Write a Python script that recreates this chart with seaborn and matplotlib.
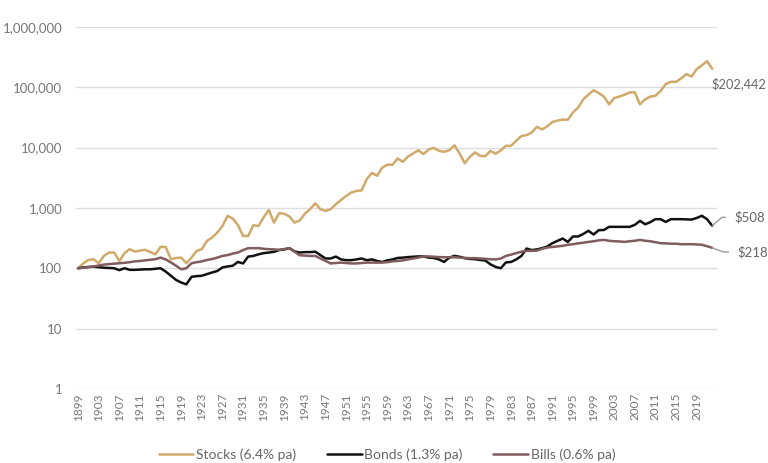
import pandas as pd
import numpy as np
import matplotlib
matplotlib.use("Agg")
import matplotlib.pyplot as plt
import matplotlib.ticker as mticker
import seaborn as sns

years = list(range(1899, 2023))

stocks = [
    100, 120, 137, 141, 121, 160, 182, 182, 132, 177,
    207, 189, 196, 202, 186, 170, 226, 224, 141, 148,
    150, 121, 150, 194, 207, 284, 323, 390, 500, 740,
    665, 520, 343, 343, 517, 500, 700, 925, 570, 815,
    800, 720, 570, 620, 800, 950, 1190, 950, 890, 950,
    1150, 1350, 1580, 1800, 1910, 1950, 3000, 3800, 3400, 4650,
    5200, 5200, 6600, 5800, 7100, 8000, 9000, 7800, 9300, 9900,
    8800, 8500, 9000, 10900, 8000, 5500, 7000, 8300, 7300, 7200,
    8800, 7900, 9000, 10700, 10700, 13000, 15600, 16000, 17800, 22000,
    20000, 22500, 26500, 28000, 29000, 29000, 38000, 46000, 63000, 75000,
    89000, 80000, 70000, 52000, 66000, 70000, 75000, 82000, 82000, 52000,
    63000, 70000, 72000, 87000, 113000, 123000, 123000, 140000, 165000, 150000,
    200000, 230000, 270000, 202442
]

bonds = [
    100, 103, 105, 106, 104, 102, 101, 100, 93, 100,
    94, 94, 95, 96, 96, 98, 100, 88, 75, 64,
    58, 54, 72, 74, 75, 80, 85, 90, 103, 107,
    110, 127, 120, 156, 160, 170, 178, 182, 187, 200,
    205, 215, 190, 182, 185, 185, 188, 165, 145, 145,
    156, 140, 136, 136, 140, 145, 136, 140, 132, 127,
    135, 140, 148, 150, 153, 155, 157, 157, 150, 148,
    140, 127, 150, 160, 155, 147, 143, 141, 137, 134,
    116, 105, 100, 125, 127, 140, 160, 212, 200, 205,
    215, 229, 260, 284, 311, 273, 336, 336, 370, 417,
    362, 427, 430, 485, 485, 485, 485, 485, 524, 610,
    535, 580, 650, 650, 585, 650, 650, 650, 645, 640,
    680, 740, 650, 508
]

bills = [
    100, 102, 104, 107, 111, 115, 117, 119, 121, 123,
    126, 130, 132, 135, 138, 141, 150, 140, 125, 110,
    96, 100, 121, 126, 130, 137, 142, 150, 160, 165,
    175, 182, 200, 215, 215, 215, 210, 207, 205, 202,
    208, 215, 187, 164, 162, 160, 160, 145, 132, 120,
    122, 124, 122, 120, 120, 122, 124, 124, 124, 124,
    126, 130, 132, 135, 140, 145, 150, 157, 157, 155,
    153, 152, 152, 152, 150, 148, 147, 147, 145, 143,
    141, 140, 145, 160, 168, 178, 188, 194, 194, 196,
    210, 220, 225, 230, 235, 245, 250, 258, 265, 273,
    280, 290, 295, 285, 280, 278, 273, 280, 285, 295,
    285, 280, 270, 260, 258, 255, 255, 250, 250, 250,
    248, 245, 232, 218
]

series_names = ["Stocks (6.4% pa)", "Bonds (1.3% pa)", "Bills (0.6% pa)"]
colors = ["#CFAA6A", "#111111", "#7E5C5F"]
end_labels = ["$202,442", "$508", "$218"]

df = pd.DataFrame({
    "year": years * 3,
    "value": stocks + bonds + bills,
    "series": [series_names[0]] * len(years)
    + [series_names[1]] * len(years)
    + [series_names[2]] * len(years),
})

sns.set_style("white")
plt.rcParams["font.family"] = ["Lato", "DejaVu Sans"]

fig = plt.figure(figsize=(7.68, 4.63), dpi=100)
ax = fig.add_axes([0.099, 0.160, 0.835, 0.782])

sns.lineplot(
    data=df,
    x="year",
    y="value",
    hue="series",
    palette=colors,
    linewidth=1.8,
    ax=ax,
)

ax.set_yscale("log")
ax.set_ylim(1, 1000000)
ax.set_xlim(1898.6, 2023.0)
ax.yaxis.set_major_locator(mticker.LogLocator(base=10, numticks=10))
ax.yaxis.set_minor_locator(mticker.NullLocator())
ax.yaxis.set_major_formatter(mticker.FuncFormatter(lambda v, p: f"{v:,.0f}"))
ax.set_xticks(list(range(1899, 2020, 4)))
ax.tick_params(axis="x", labelrotation=90, labelsize=8.5, colors="#777777", length=0, pad=3)
ax.tick_params(axis="y", labelsize=9.5, colors="#777777", length=0, pad=10)
ax.grid(axis="y", color="#dddddd", linewidth=1.0)
ax.grid(axis="x", visible=False)
for s in ax.spines.values():
    s.set_visible(False)
ax.set_xlabel("")
ax.set_ylabel("")

# end labels
ax.annotate(end_labels[0], xy=(years[-1], stocks[-1]), xytext=(-0.5, -11),
            textcoords="offset points", ha="left", va="center",
            fontsize=9.2, color="#666666", annotation_clip=False)
ax.annotate(end_labels[1], xy=(years[-1], bonds[-1]), xytext=(16, 6),
            textcoords="offset points", ha="left", va="center",
            fontsize=9.5, color="#666666", annotation_clip=False,
            arrowprops=dict(arrowstyle="-", color="#999999", lw=1,
                            relpos=(0, 0.5), shrinkA=4, shrinkB=0,
                            connectionstyle="angle,angleA=0,angleB=40"))
ax.annotate(end_labels[2], xy=(years[-1], bills[-1]), xytext=(18, -3),
            textcoords="offset points", ha="left", va="center",
            fontsize=9.5, color="#666666", annotation_clip=False,
            arrowprops=dict(arrowstyle="-", color="#999999", lw=1,
                            relpos=(0, 0.5), shrinkA=4, shrinkB=0,
                            connectionstyle="angle,angleA=0,angleB=-20"))

leg = ax.legend(loc="upper center", bbox_to_anchor=(0.485, -0.13), ncol=3,
                frameon=False, fontsize=10, handlelength=2.5,
                columnspacing=2.2, handletextpad=0.2)
for t in leg.get_texts():
    t.set_color("#666666")

fig.savefig("out.png", dpi=100)
